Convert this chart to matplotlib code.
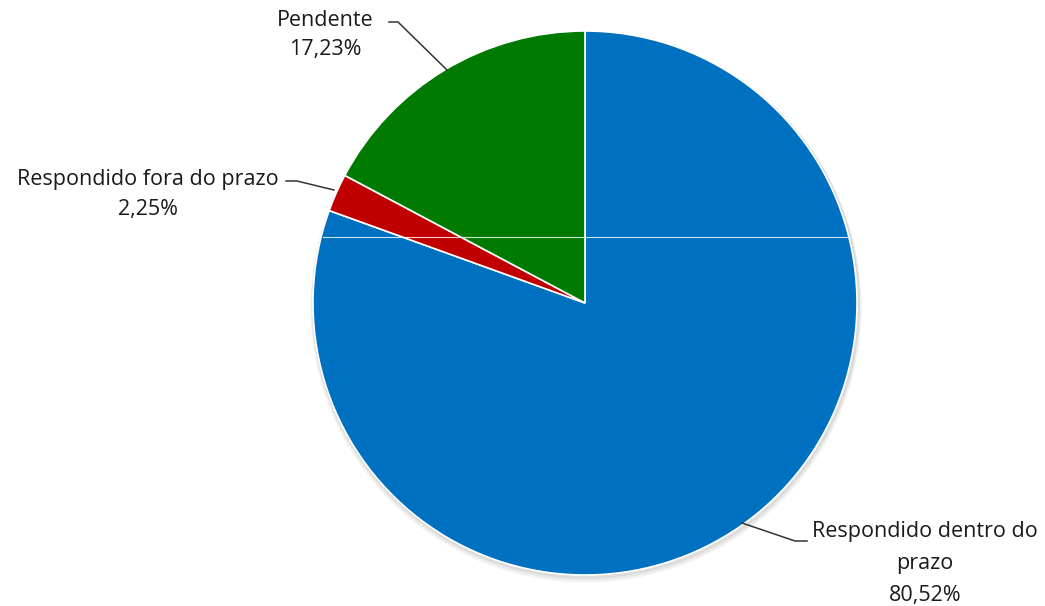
import numpy as np
import matplotlib.pyplot as plt
from matplotlib.patches import Circle

plt.rcParams['font.family'] = ['Open Sans', 'DejaVu Sans']

categorias = ['Respondido dentro do\nprazo', 'Respondido fora do prazo', 'Pendente']
valores = [80.52, 2.25, 17.23]
rotulos = ['80,52%', '2,25%', '17,23%']
cores = ['#0070C0', '#C00000', '#007A00']

fig = plt.figure(figsize=(10.45, 6.06), dpi=100)
ax = fig.add_axes([0, 0, 1, 1])

cx, cy, r = 585, 303, 272

# sombra leve
for i, a in enumerate([0.05, 0.04, 0.03]):
    ax.add_patch(Circle((cx + 1, cy - 2 - i), r + 1 + i, color='black', alpha=a, zorder=0))

wedges, _ = ax.pie(valores, colors=cores, startangle=90, counterclock=False,
                   center=(cx, cy), radius=r, frame=True,
                   wedgeprops=dict(edgecolor='white', linewidth=1.2))
ax.set_xlim(0, 1045)
ax.set_ylim(0, 606)
ax.set_aspect('equal')
ax.axis('off')

# linha branca horizontal (artefato da imagem original)
dy = 66
ax.plot([cx - np.sqrt(r**2 - dy**2) + 2, cx + np.sqrt(r**2 - dy**2) - 2], [cy + dy, cy + dy],
        color='white', lw=0.8, alpha=0.8, zorder=5)

fs = 15.5
cor_txt = '#1a1a1a'
# Pendente
ax.text(325, 606 - 20, 'Pendente', ha='center', va='center', fontsize=fs, color=cor_txt)
ax.text(325, 606 - 50, rotulos[2], ha='center', va='center', fontsize=fs, color=cor_txt)
ax.plot([389, 398, 447], [606 - 22, 606 - 22, 606 - 70], color='#333333', lw=1.1, zorder=6)

# Respondido fora do prazo
ax.text(148, 606 - 180, categorias[1], ha='center', va='center', fontsize=fs, color=cor_txt)
ax.text(148, 606 - 210, rotulos[1], ha='center', va='center', fontsize=fs, color=cor_txt)
ax.plot([286, 297, 334], [606 - 181, 606 - 181, 606 - 190], color='#333333', lw=1.1, zorder=6)

# Respondido dentro do prazo
ax.text(925, 606 - 532, 'Respondido dentro do', ha='center', va='center', fontsize=fs, color=cor_txt)
ax.text(925, 606 - 563, 'prazo', ha='center', va='center', fontsize=fs, color=cor_txt)
ax.text(925, 606 - 595, rotulos[0], ha='center', va='center', fontsize=fs, color=cor_txt)
ax.plot([742, 795, 807], [606 - 523, 606 - 541, 606 - 541], color='#333333', lw=1.1, zorder=6)

fig.savefig('out.png', dpi=100, facecolor='white')
